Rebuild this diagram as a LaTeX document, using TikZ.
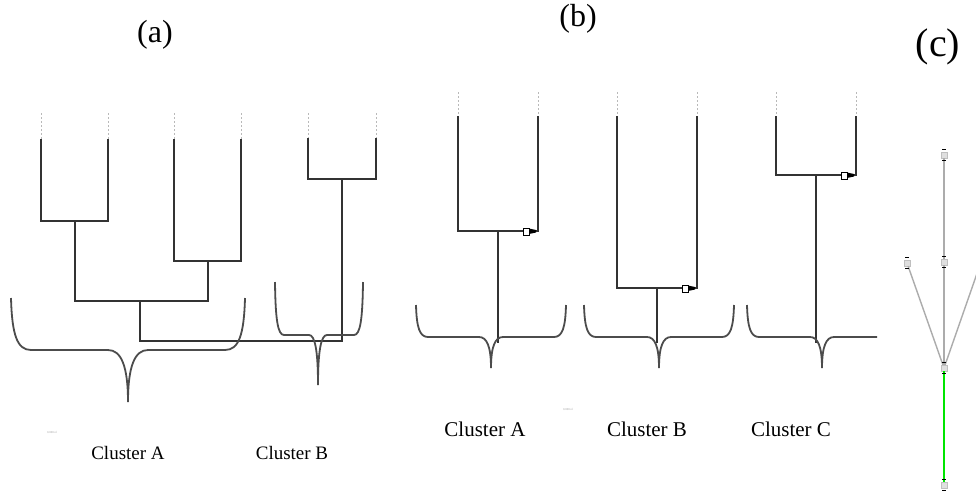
\documentclass[tikz,border=0pt]{standalone}
\usepackage{fontspec}
\setmainfont{Liberation Serif}
\tikzset{
  tree/.style={draw=black!80, line width=1.6pt, line cap=rect},
  leafdash/.style={draw=gray!55, line width=0.9pt, dash pattern=on 2pt off 2pt},
  bracestyle/.style={draw=black!70, line width=1.8pt},
  title/.style={font=\fontsize{32}{34}\selectfont, inner sep=0pt},
  clusterA/.style={font=\fontsize{19}{22}\selectfont, inner sep=0pt},
  clusterB/.style={font=\fontsize{21}{24}\selectfont, inner sep=0pt},
  tinytext/.style={font=\fontsize{3}{3}\selectfont, text=gray!70, inner sep=0pt},
  cnode/.style={rectangle, fill=gray!25, draw=gray!50, line width=0.3pt, minimum size=6pt, inner sep=0pt},
  cedge/.style={draw=gray!65, line width=1.4pt},
  gedge/.style={draw=green!90!black, line width=1.6pt},
  marker/.style={draw=black, line width=0.8pt, fill=white}
}
% brace: #1 L, #2 C, #3 R, #4 top y, #5 horizontal y, #6 tip y, #7 arm width
\newcommand\clbrace[7]{%
  \draw[bracestyle] (#1,#4) .. controls ({#1+0.05*#7},{#5-0.3*(#5-#4)}) and ({#1+0.3*#7},#5) .. ({#1+#7},#5)
    -- ({#2-#7},#5) .. controls ({#2-0.35*#7},#5) and (#2,{#5+0.3*(#6-#5)}) .. (#2,#6)
    .. controls (#2,{#5+0.3*(#6-#5)}) and ({#2+0.35*#7},#5) .. ({#2+#7},#5)
    -- ({#3-#7},#5) .. controls ({#3-0.3*#7},#5) and ({#3-0.05*#7},{#5-0.3*(#5-#4)}) .. (#3,#4);}
% marker near a corner at (#1,#2)
\newcommand\cornermark[2]{%
  \draw[marker] ({#1-15},{#2-3}) -- ({#1-9},{#2-3}) -- ({#1-9},{#2+4}) -- ({#1-15},{#2+4}) -- cycle;
  \fill[black] ({#1-9},{#2-2.5}) -- ({#1-2},{#2-1}) -- ({#1-2},{#2+1.5}) -- ({#1-9},{#2+3}) -- cycle;}
\begin{document}
\begin{tikzpicture}[x=1pt,y=-1pt]
\useasboundingbox (0,0) rectangle (976,491);
\fill[white] (0,0) rectangle (976,491);

% ---------- titles ----------
\node[title] (ta) at (155,35) {(a)};
\node[title] (tb) at (578,19) {(b)};
\node[title, font=\fontsize{40}{42}\selectfont] (tc) at (938,47) {(c)};

% ---------- panel (a) ----------
\foreach \n/\x/\t/\b in {a1/41/140/221, a2/108/140/221, a3/174/140/261, a4/241/140/261, a5/308/139/179, a6/376/139/179}{
  \coordinate (\n d) at (\x,113);
  \coordinate (\n) at (\x,\t);
  \coordinate (\n b) at (\x,\b);
}
\foreach \n in {a1,a2,a3,a4,a5,a6}{ \draw[leafdash] (\n d) -- (\n); }
\coordinate (p1) at (75,221);  \coordinate (p1b) at (75,301);
\coordinate (p2) at (208,261); \coordinate (p2b) at (208,301);
\coordinate (q) at (140,301);  \coordinate (qb) at (140,341);
\coordinate (p3) at (342,179); \coordinate (p3b) at (342,341);
\draw[tree] (a1) -- (a1b) -- (a2b) -- (a2);
\draw[tree] (a3) -- (a3b) -- (a4b) -- (a4);
\draw[tree] (a5) -- (a5b) -- (a6b) -- (a6);
\draw[tree] (p1) -- (p1b) -- (p2b) -- (p2);
\draw[tree] (q) -- (qb) -- (p3b) -- (p3);

\clbrace{11}{128}{245}{298}{350}{402}{20}
\clbrace{275}{318}{363}{282}{335}{385}{9}

\node[tinytext] (sa) at (52,432) {0.000 nl};
\node[clusterA] (la) at (128,453) {Cluster A};
\node[clusterA] (lb) at (292,453) {Cluster B};

% ---------- panel (b) ----------
\foreach \n/\x/\b in {b1/458/231, b2/538/231, b3/617/288, b4/697/288, b5/776/175, b6/856/175}{
  \coordinate (\n d) at (\x,92);
  \coordinate (\n) at (\x,117);
  \coordinate (\n b) at (\x,\b);
}
\foreach \n in {b1,b2,b3,b4,b5,b6}{ \draw[leafdash] (\n d) -- (\n); }
\coordinate (bp) at (498,231); \coordinate (bpb) at (498,342);
\coordinate (bq) at (657,288); \coordinate (bqb) at (657,342);
\coordinate (br) at (816,175); \coordinate (brb) at (816,342);
\draw[tree] (b1) -- (b1b) -- (b2b) -- (b2);
\draw[tree] (b3) -- (b3b) -- (b4b) -- (b4);
\draw[tree] (b5) -- (b5b) -- (b6b) -- (b6);
\draw[tree] (bp) -- (bpb);
\draw[tree] (bq) -- (bqb);
\draw[tree] (br) -- (brb);
\cornermark{538}{231}
\cornermark{697}{288}
\cornermark{856}{175}

\clbrace{416}{491}{566}{305}{337}{368}{12}
\clbrace{584}{659}{734}{305}{337}{368}{12}
\begin{scope}
  \clip (700,250) rectangle (877,400);
  \clbrace{747}{822}{897}{305}{337}{368}{12}
\end{scope}

\node[tinytext] (sb) at (568,409) {0.000 nl};
\node[clusterB] (lba) at (485,429) {Cluster A};
\node[clusterB] (lbb) at (647,429) {Cluster B};
\node[clusterB] (lbc) at (791,429) {Cluster C};

% ---------- panel (c) ----------
\node[cnode] (c1) at (944,155) {};
\node[cnode] (c2) at (944,262) {};
\node[cnode] (c3) at (907,263) {};
\node[cnode] (c4) at (944,368) {};
\node[cnode] (c5) at (944,485) {};
\node[cnode] (c6) at (981,262) {};
\draw[cedge] (c1) -- (c2);
\draw[cedge] (c2) -- (c4);
\draw[cedge] (c3) -- (c4);
\draw[cedge] (c6) -- (c4);
\draw[gedge] (c4) -- (c5);
\foreach \n in {c1,c2,c3,c4,c5,c6}{
  \draw[black, line width=1.1pt] ([xshift=-2pt,yshift=2pt]\n.north) -- ++(4pt,0);
  \draw[black, line width=1.1pt] ([xshift=-2pt,yshift=-2pt]\n.south) -- ++(4pt,0);
}
\end{tikzpicture}
\end{document}
